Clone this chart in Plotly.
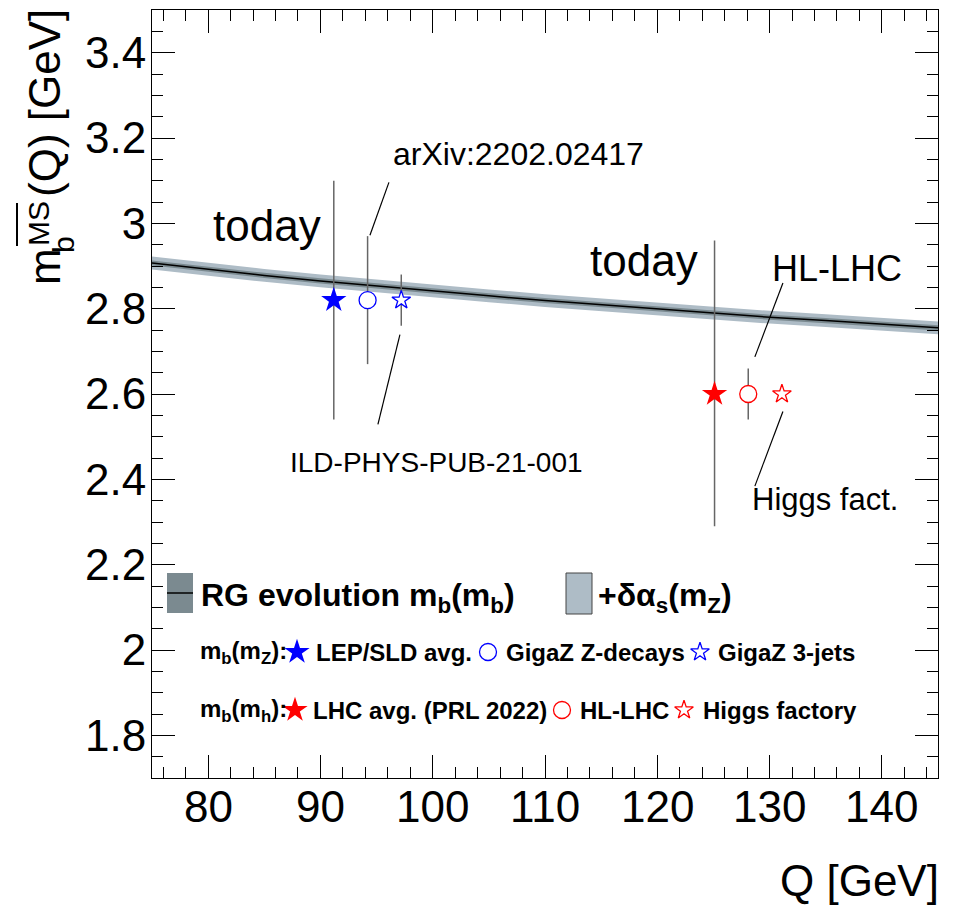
import plotly.graph_objects as go

# ---------------- data ----------------
Q_grid = [75, 80, 85, 90, 95, 100, 105, 110, 115, 120, 125, 130, 135, 140, 145]
mb_central = [2.907, 2.892, 2.878, 2.865, 2.853, 2.841, 2.830, 2.819,
              2.809, 2.799, 2.789, 2.780, 2.772, 2.763, 2.755]
band_mb_half = 0.006      # RG evolution m_b(m_b) uncertainty
band_as_half = 0.015      # + delta alpha_s(mZ)

mz_Q = [91.19, 94.2, 97.2]
mz_vals = [2.82, 2.82, 2.82]
mz_err = [0.28, 0.15, 0.06]

mh_Q = [125.1, 128.1, 131.1]
mh_vals = [2.60, 2.60, 2.60]
mh_err_up = [0.36, 0.06, 0.004]
mh_err_dn = [0.31, 0.06, 0.004]

y_ticks = [1.8, 2.0, 2.2, 2.4, 2.6, 2.8, 3.0, 3.2, 3.4]
y_ticktext = ["1.8", "2", "2.2", "2.4", "2.6", "2.8", "3", "3.2", "3.4"]
x_ticks = [80, 90, 100, 110, 120, 130, 140]
x_ticktext = ["80", "90", "100", "110", "120", "130", "140"]

# ---------------- style ----------------
FONT = "Liberation Sans, Arial, Helvetica, sans-serif"
BLUE = "#0000ff"
RED = "#ff0000"
DARK_BAND = "#7b8a90"
LIGHT_BAND = "#aebcc6"
ERR_COL = "#666666"

W, H = 953, 906
L, R, T, B = 152, 15, 10, 128
PW, PH = W - L - R, H - T - B


def P(px, py):
    return (px - L) / PW, (H - B - py) / PH


fig = go.Figure()

upper_as = [v + band_as_half for v in mb_central]
lower_as = [v - band_as_half for v in mb_central]
upper_mb = [v + band_mb_half for v in mb_central]
lower_mb = [v - band_mb_half for v in mb_central]

fig.add_trace(go.Scatter(x=Q_grid, y=upper_as, mode="lines", line=dict(width=0, color=LIGHT_BAND),
                         showlegend=False, hoverinfo="skip"))
fig.add_trace(go.Scatter(x=Q_grid, y=lower_as, mode="lines", line=dict(width=0, color=LIGHT_BAND),
                         fill="tonexty", fillcolor=LIGHT_BAND, showlegend=False, hoverinfo="skip"))
fig.add_trace(go.Scatter(x=Q_grid, y=upper_mb, mode="lines", line=dict(width=0, color=DARK_BAND),
                         showlegend=False, hoverinfo="skip"))
fig.add_trace(go.Scatter(x=Q_grid, y=lower_mb, mode="lines", line=dict(width=0, color=DARK_BAND),
                         fill="tonexty", fillcolor=DARK_BAND, showlegend=False, hoverinfo="skip"))
fig.add_trace(go.Scatter(x=Q_grid, y=mb_central, mode="lines", line=dict(width=1.5, color="black"),
                         showlegend=False, hoverinfo="skip"))

sym_style = [
    dict(symbol="star", size=19, fill=True),
    dict(symbol="circle", size=17, fill=False),
    dict(symbol="star", size=14, fill=False),
]


def marker_for(i, col):
    s = sym_style[i]
    if s["fill"]:
        return dict(symbol=s["symbol"], size=s["size"], color=col, line=dict(width=0))
    return dict(symbol=s["symbol"], size=s["size"], color="white", line=dict(width=1.3, color=col))


for i in range(3):
    fig.add_trace(go.Scatter(
        x=[mz_Q[i]], y=[mz_vals[i]], mode="markers", marker=marker_for(i, BLUE),
        error_y=dict(type="data", array=[mz_err[i]], symmetric=True, width=0,
                     thickness=1.5, color=ERR_COL),
        showlegend=False))
    fig.add_trace(go.Scatter(
        x=[mh_Q[i]], y=[mh_vals[i]], mode="markers", marker=marker_for(i, RED),
        error_y=dict(type="data", array=[mh_err_up[i]], arrayminus=[mh_err_dn[i]],
                     symmetric=False, width=0, thickness=1.5, color=ERR_COL),
        showlegend=False))

# ---------------- legend (pixel overlay axes) ----------------
leg_row1 = 652
leg_row2 = 710
legend_markers = [
    (297, leg_row1, 0, BLUE), (488, leg_row1, 1, BLUE), (700, leg_row1, 2, BLUE),
    (295, leg_row2, 0, RED), (562, leg_row2, 1, RED), (684, leg_row2, 2, RED),
]
for (lx, ly, i, col) in legend_markers:
    fig.add_trace(go.Scatter(x=[lx], y=[ly], xaxis="x2", yaxis="y2", mode="markers",
                             marker=marker_for(i, col), showlegend=False, hoverinfo="skip"))

shapes = []
shapes.append(dict(type="rect", xref="x2", yref="y2", x0=167, x1=193, y0=573, y1=613,
                   fillcolor=DARK_BAND, line=dict(width=0)))
shapes.append(dict(type="line", xref="x2", yref="y2", x0=167, x1=193, y0=593, y1=593,
                   line=dict(width=1.5, color="black")))
shapes.append(dict(type="rect", xref="x2", yref="y2", x0=566, x1=592, y0=573, y1=614,
                   fillcolor=LIGHT_BAND, line=dict(width=1, color="#444444")))

annotations = []


def leg_text(x, y, text, size):
    annotations.append(dict(xref="x2", yref="y2", x=x, y=y, text=text, showarrow=False,
                            xanchor="left", yanchor="middle",
                            font=dict(family=FONT, size=size, color="black")))


leg_text(199, 597, "<b>RG evolution m<sub>b</sub>(m<sub>b</sub>)</b>", 32)
leg_text(596, 597, "<b>+δα<sub>s</sub>(m<sub>Z</sub>)</b>", 32)
leg_text(198, leg_row1, "<b>m<sub>b</sub>(m<sub>Z</sub>):</b>", 24)
leg_text(314, leg_row1, "<b>LEP/SLD avg.</b>", 24)
leg_text(504, leg_row1, "<b>GigaZ Z-decays</b>", 24)
leg_text(716, leg_row1, "<b>GigaZ 3-jets</b>", 24)
leg_text(198, leg_row2, "<b>m<sub>b</sub>(m<sub>h</sub>):</b>", 24)
leg_text(311, leg_row2, "<b>LHC avg. (PRL 2022)</b>", 24)
leg_text(578, leg_row2, "<b>HL-LHC</b>", 24)
leg_text(701, leg_row2, "<b>Higgs factory</b>", 24)

# ---------------- in-plot annotations ----------------


def data_text(x, y, text, size):
    annotations.append(dict(x=x, y=y, text=text, showarrow=False, xanchor="center",
                            yanchor="middle", font=dict(family=FONT, size=size, color="black")))


data_text(85.2, 2.995, "today", 44)
data_text(118.8, 2.912, "today", 44)
data_text(107.6, 3.162, "arXiv:2202.02417", 32)
data_text(100.3, 2.440, "ILD-PHYS-PUB-21-001", 28)
data_text(136.0, 2.893, "HL-LHC", 36)
data_text(134.9, 2.353, "Higgs fact.", 31)

pointer_lines = [
    (94.41, 2.972, 96.10, 3.096),
    (95.12, 2.529, 97.08, 2.739),
    (128.69, 2.687, 131.19, 2.860),
    (128.69, 2.384, 131.19, 2.559),
]
for (x0, y0, x1, y1) in pointer_lines:
    shapes.append(dict(type="line", xref="x", yref="y", x0=x0, y0=y0, x1=x1, y1=y1,
                       line=dict(width=1.2, color="black")))

# x tick labels (placed at the axis' data positions, just below the frame)
_, xlab_y = P(0, 806)
for xv, xt in zip(x_ticks, x_ticktext):
    annotations.append(dict(x=xv, xref="x", y=xlab_y, yref="paper", text=xt, showarrow=False,
                            xanchor="center", yanchor="middle",
                            font=dict(family=FONT, size=44, color="black")))

# ---------------- axis titles ----------------
ax, ay = P(941, 880)
annotations.append(dict(xref="paper", yref="paper", x=ax, y=ay, text="Q [GeV]", showarrow=False,
                        xanchor="right", yanchor="middle",
                        font=dict(family=FONT, size=44, color="black")))


def ytitle_part(px, py, text, size):
    x, y = P(px, py)
    annotations.append(dict(xref="paper", yref="paper", x=x, y=y, text=text, showarrow=False,
                            xanchor="center", yanchor="middle", textangle=-90,
                            font=dict(family=FONT, size=size, color="black")))


ytitle_part(44, 267, "m", 44)
ytitle_part(63, 245, "b", 30)
ytitle_part(38, 224, "MS", 30)
ytitle_part(44, 103, "(Q) [GeV]", 44)
ox0, oy0 = P(17, 203)
ox1, oy1 = P(17, 246)
shapes.append(dict(type="line", xref="paper", yref="paper", x0=ox0, y0=oy0, x1=ox1, y1=oy1,
                   line=dict(width=2, color="black")))

fig.update_layout(
    width=W, height=H,
    margin=dict(l=L, r=R, t=T, b=B, pad=0),
    paper_bgcolor="white", plot_bgcolor="white",
    showlegend=False,
    shapes=shapes, annotations=annotations,
    xaxis=dict(range=[75, 145], tickvals=x_ticks, ticks="inside", ticklen=23, tickwidth=1,
               tickcolor="black", showline=True, linecolor="black", linewidth=1, mirror="ticks",
               showgrid=False, zeroline=False, showticklabels=False,
               minor=dict(dtick=2, ticks="inside", ticklen=11, tickcolor="black", showgrid=False)),
    yaxis=dict(range=[1.7, 3.5], tickvals=y_ticks, ticktext=y_ticktext, ticks="inside", ticklen=23,
               tickwidth=1, tickcolor="black", showline=True, linecolor="black", linewidth=1,
               mirror="ticks", showgrid=False, zeroline=False, ticklabelstandoff=-4,
               tickfont=dict(family=FONT, size=44, color="black"),
               minor=dict(dtick=0.05, ticks="inside", ticklen=11, tickcolor="black", showgrid=False)),
    xaxis2=dict(range=[L, W - R], overlaying="x", anchor="y2", visible=False, fixedrange=True),
    yaxis2=dict(range=[H - B, T], overlaying="y", anchor="x2", visible=False, fixedrange=True),
)

fig.write_html("out.html")
